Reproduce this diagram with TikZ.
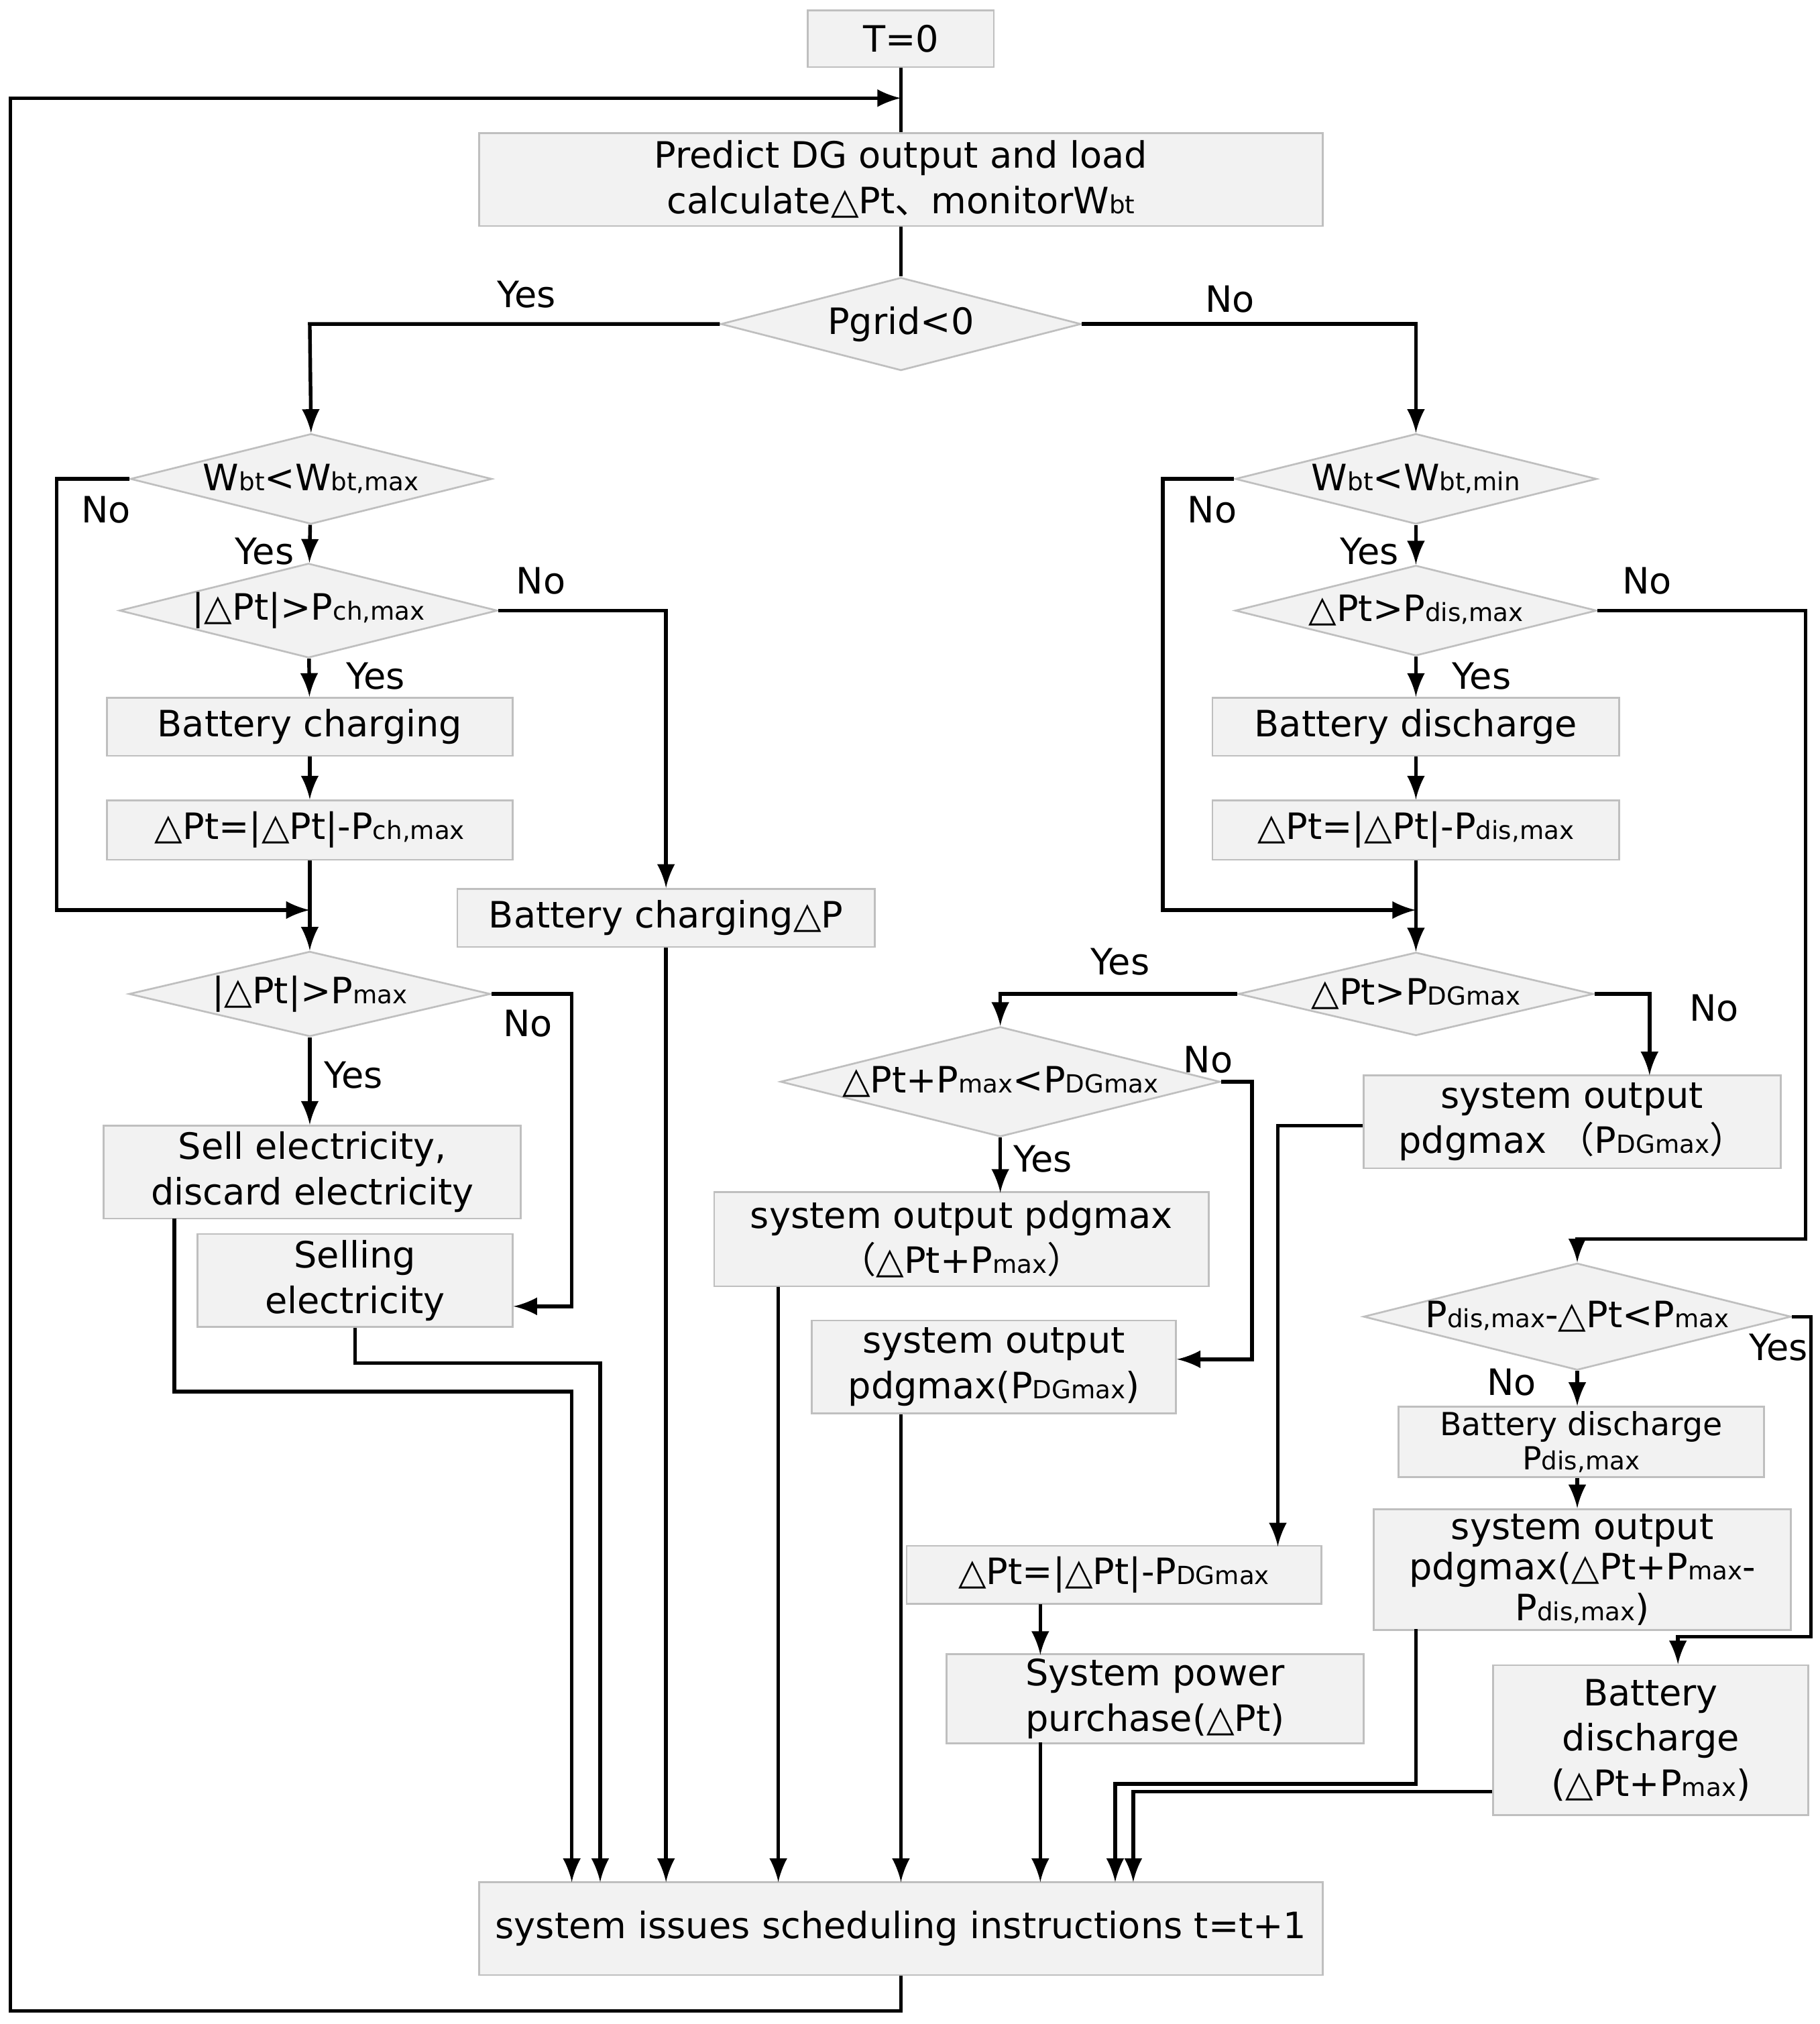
\documentclass[tikz,border=0pt]{standalone}
\usepackage{fontspec}
\setmainfont{DejaVu Sans}
\newfontfamily\cjk{Noto Sans CJK SC}
\usetikzlibrary{shapes.geometric}
\tikzset{>=latex}
\newcommand{\sm}[1]{{\fontsize{5.5}{6}\selectfont #1}}
\newcommand{\tri}{△}

\begin{document}
\begin{tikzpicture}[x=0.01cm,y=-0.01cm,
    box/.style={draw=black!25,fill=black!5,align=center,inner sep=1pt,font=\fontsize{8}{10}\selectfont},
    dia/.style={diamond,aspect=4,draw=black!25,fill=black!5,inner sep=0pt,font=\fontsize{8}{10}\selectfont},
    lab/.style={font=\fontsize{8}{10}\selectfont},
    flow/.style={thick,->}]
    \useasboundingbox (0,0) rectangle (1410,1568);
    % top
    \node[box,minimum width=1.44cm,minimum height=0.44cm] (t0) at (698,30) {T=0};
    \node[box,minimum width=6.53cm,minimum height=0.72cm] (pred) at (698,139) {Predict DG output and load\\calculate\tri Pt{\cjk 、}monitorW\sm{bt}};
    \node[dia,minimum width=2.79cm,minimum height=0.72cm] (pgrid) at (698,251) {Pgrid<0};
    % left branch
    \node[dia,minimum width=2.8cm,minimum height=0.7cm] (wmax) at (241,371) {W\sm{bt}<W\sm{bt,max}};
    \node[dia,minimum width=2.8cm,minimum height=0.7cm] (dch) at (239,473) {|\tri Pt|>P\sm{ch,max}};
    \node[box,minimum width=3.14cm,minimum height=0.45cm] (bc) at (240,563) {Battery charging};
    \node[box,minimum width=3.14cm,minimum height=0.46cm] (dpt1) at (240,643) {\tri Pt=|\tri Pt|-P\sm{ch,max}};
    \node[box,minimum width=3.23cm,minimum height=0.45cm] (bcdp) at (516,711) {Battery charging\tri P};
    \node[dia,minimum width=2.8cm,minimum height=0.64cm] (pmax) at (240,770) {|\tri Pt|>P\sm{max}};
    \node[box,minimum width=3.23cm,minimum height=0.72cm] (sell) at (242,908) {Sell electricity,\\discard electricity};
    \node[box,minimum width=2.44cm,minimum height=0.72cm] (selling) at (275,992) {Selling\\electricity};
    % right branch
    \node[dia,minimum width=2.8cm,minimum height=0.7cm] (wmin) at (1097,371) {W\sm{bt}<W\sm{bt,min}};
    \node[dia,minimum width=2.8cm,minimum height=0.7cm] (dis) at (1097,473) {\tri Pt>P\sm{dis,max}};
    \node[box,minimum width=3.15cm,minimum height=0.45cm] (bd) at (1097,563) {Battery discharge};
    \node[box,minimum width=3.15cm,minimum height=0.46cm] (dpt2) at (1097,643) {\tri Pt=|\tri Pt|-P\sm{dis,max}};
    \node[dia,minimum width=2.75cm,minimum height=0.64cm] (pdg) at (1097,770) {\tri Pt>P\sm{DGmax}};
    \node[dia,minimum width=3.12cm,minimum height=0.7cm] (tppm) at (775,838) {\tri Pt+P\sm{max}<P\sm{DGmax}};
    \node[box,minimum width=3.23cm,minimum height=0.72cm] (so1) at (1218,869) {system output\\pdgmax {\cjk （}P\sm{DGmax}{\cjk ）}};
    \node[box,minimum width=3.83cm,minimum height=0.73cm] (so2) at (745,960) {system output pdgmax\\{\cjk （}\tri Pt+P\sm{max}{\cjk ）}};
    \node[box,minimum width=2.82cm,minimum height=0.72cm] (so3) at (770,1059) {system output\\pdgmax(P\sm{DGmax})};
    \node[dia,minimum width=3.1cm,minimum height=0.7cm] (pdm) at (1222,1020) {P\sm{dis,max}-\tri Pt<P\sm{max}};
    \node[box,minimum width=2.83cm,minimum height=0.46cm,font=\fontsize{7}{7.5}\selectfont] (bdp) at (1225,1117) {Battery discharge\\P\sm{dis,max}};
    \node[box,minimum width=3.23cm,minimum height=0.92cm,font=\fontsize{8}{9}\selectfont] (so4) at (1226,1216) {system output\\pdgmax(\tri Pt+P\sm{max}-\\P\sm{dis,max})};
    \node[box,minimum width=3.21cm,minimum height=0.45cm] (dpt3) at (863,1220) {\tri Pt=|\tri Pt|-P\sm{DGmax}};
    \node[box,minimum width=3.23cm,minimum height=0.68cm] (spp) at (895,1316) {System power\\purchase(\tri Pt)};
    \node[box,minimum width=2.44cm,minimum height=1.16cm] (bd2) at (1279,1348) {Battery\\discharge\\(\tri Pt+P\sm{max})};
    \node[box,minimum width=6.53cm,minimum height=0.72cm] (sched) at (698,1494) {system issues scheduling instructions t=t+1};
    % helper coordinates
    \coordinate (top) at (698,76);
    \coordinate (jl) at (240,705);
    \coordinate (jr) at (1097,705);
    % main flow
    \draw[thick] (t0) -- (pred);
    \draw[thick] (pred) -- (pgrid);
    \draw[flow] (sched.south) -- (698,1558) -- (8,1558) -- (8,76) -- (top);
    \draw[flow] (pgrid.west) -- (240,251) -- (wmax.north);
    \draw[flow] (pgrid.east) -- (1097,251) -- (wmin.north);
    % left
    \draw[flow] (wmax) -- (dch);
    \draw[flow] (wmax.west) -- (44,371) -- (44,705) -- (jl);
    \draw[flow] (dch) -- (bc);
    \draw[flow] (dch.east) -- (516,473) -- (bcdp.north);
    \draw[flow] (bc) -- (dpt1);
    \draw[flow] (dpt1) -- (pmax);
    \draw[flow] (pmax) -- (sell.north -| pmax);
    \draw[flow] (pmax.east) -- (443,770) -- (443,1012) -- (selling.east |- 0,1012);
    \draw[flow] (135,944) -- (135,1078) -- (443,1078) -- (443,1458);
    \draw[flow] (selling.south) -- (275,1056) -- (465,1056) -- (465,1458);
    \draw[flow] (bcdp.south) -- (516,1458);
    % right
    \draw[flow] (wmin) -- (dis);
    \draw[flow] (wmin.west) -- (901,371) -- (901,705) -- (jr);
    \draw[flow] (dis) -- (bd);
    \draw[flow] (dis.east) -- (1399,473) -- (1399,960) -- (1222,960) -- (pdm.north);
    \draw[flow] (bd) -- (dpt2);
    \draw[flow] (dpt2) -- (pdg);
    \draw[flow] (pdg.west) -- (775,770) -- (tppm.north);
    \draw[flow] (pdg.east) -- (1278,770) -- (1278,833);
    \draw[flow] (tppm) -- (775,924);
    \draw[flow] (tppm.east) -- (970,838) -- (970,1053) -- (so3.east |- 0,1053);
    \draw[flow] (so1.west |- 0,872) -- (990,872) -- (990,1198);
    \draw[flow] (603,997) -- (603,1458);
    \draw[flow] (so3.south -| 698,0) -- (698,1458);
    \draw[flow] (806,1243) -- (806,1282);
    \draw[flow] (806,1350) -- (806,1458);
    \draw[flow] (pdm.south -| 1222,0) -- (bdp.north -| 1222,0);
    \draw[flow] (pdm.east) -- (1403,1020) -- (1403,1268) -- (1300,1268) -- (bd2.north -| 1300,0);
    \draw[flow] (bdp.south -| 1222,0) -- (so4.north -| 1222,0);
    \draw[flow] (1097,1262) -- (1097,1382) -- (864,1382) -- (864,1458);
    \draw[flow] (bd2.west |- 0,1388) -- (878,1388) -- (878,1458);
    % labels
    \node[lab] at (408,228) {Yes};
    \node[lab] at (953,232) {No};
    \node[lab] at (82,395) {No};
    \node[lab] at (205,427) {Yes};
    \node[lab] at (419,450) {No};
    \node[lab] at (291,524) {Yes};
    \node[lab] at (409,793) {No};
    \node[lab] at (274,833) {Yes};
    \node[lab] at (939,395) {No};
    \node[lab] at (1061,427) {Yes};
    \node[lab] at (1276,450) {No};
    \node[lab] at (1148,524) {Yes};
    \node[lab] at (868,745) {Yes};
    \node[lab] at (1328,781) {No};
    \node[lab] at (936,821) {No};
    \node[lab] at (808,898) {Yes};
    \node[lab] at (1171,1071) {No};
    \node[lab] at (1378,1044) {Yes};
\end{tikzpicture}
\end{document}
